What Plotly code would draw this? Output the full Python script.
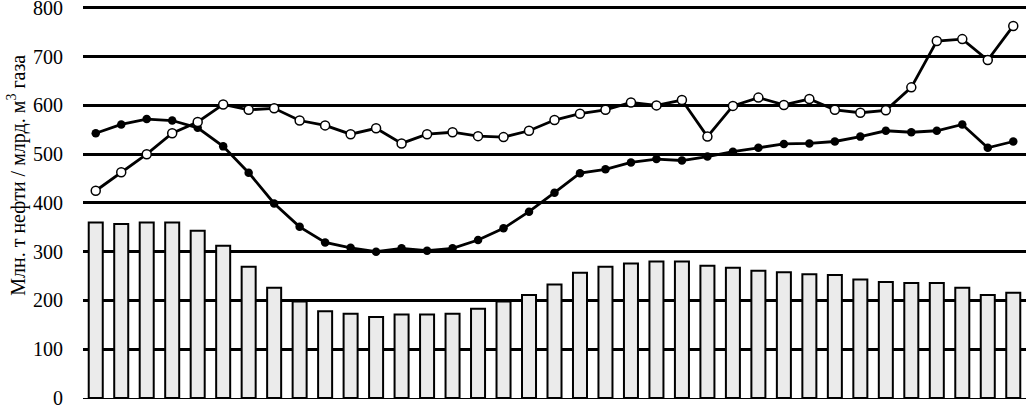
import plotly.graph_objects as go

# годы (подписей по оси X на рисунке нет)
years = list(range(1980, 2017))

# столбцы
bars = [360, 357, 360, 360, 343, 312, 269, 226, 198, 178, 173, 166, 171, 171, 173,
        183, 198, 211, 233, 257, 269, 276, 280, 280, 271, 267, 261, 258, 254, 252,
        243, 238, 236, 236, 226, 211, 216]

# линия с закрашенными маркерами
filled_line = [543, 561, 572, 569, 554, 516, 462, 399, 351, 319, 308, 300, 307, 302, 307,
               324, 348, 382, 421, 461, 469, 483, 490, 487, 495, 505, 513, 521, 522, 526,
               536, 548, 545, 548, 561, 513, 526]

# линия с пустыми маркерами
open_line = [425, 463, 500, 543, 566, 602, 591, 594, 569, 559, 541, 553, 522, 541, 545,
             537, 535, 548, 570, 583, 591, 606, 600, 611, 536, 599, 616, 601, 613, 591,
             585, 590, 637, 732, 736, 693, 763]

y_ticks = [0, 100, 200, 300, 400, 500, 600, 700, 800]
y_title = "Млн. т нефти / млрд. м<sup>3</sup> газа"

fig = go.Figure()

fig.add_trace(go.Bar(
    x=years, y=bars,
    marker=dict(color="#ebebeb", line=dict(color="black", width=2)),
))

fig.add_trace(go.Scatter(
    x=years, y=filled_line, mode="lines+markers",
    line=dict(color="black", width=2.8),
    marker=dict(symbol="circle", size=8.5, color="black"),
))

fig.add_trace(go.Scatter(
    x=years, y=open_line, mode="lines+markers",
    line=dict(color="black", width=2.8),
    marker=dict(symbol="circle", size=9, color="white", line=dict(color="black", width=1.5)),
))

fig.update_layout(
    width=1028, height=408,
    margin=dict(l=83, r=2, t=3, b=10),
    plot_bgcolor="white", paper_bgcolor="white",
    showlegend=False,
    bargap=0.45,
    font=dict(family="Liberation Serif", size=20, color="black"),
)

fig.update_xaxes(
    range=[years[0] - 0.5, years[-1] + 0.5],
    showticklabels=False, showgrid=False, zeroline=False,
    showline=False, ticks="", automargin=False,
)

fig.update_yaxes(
    range=[0, 810], tickvals=y_ticks,
    showgrid=True, gridcolor="black", gridwidth=3,
    zeroline=True, zerolinecolor="black", zerolinewidth=1,
    showline=False, ticks="", automargin=False,
    ticklabelstandoff=19, ticklabeloverflow="allow",
)

# подпись оси Y сдвинута вверх, как в оригинале
fig.add_annotation(
    text=y_title, textangle=-90,
    xref="paper", yref="paper", x=-0.07, y=0.565,
    xanchor="center", yanchor="middle", showarrow=False,
    font=dict(family="Liberation Serif", size=20),
)

# убрать отступ body, чтобы рисунок начинался с левого верхнего угла
fig.write_html("out.html", config={"displayModeBar": False},
               post_script="document.body.style.margin='0';")
